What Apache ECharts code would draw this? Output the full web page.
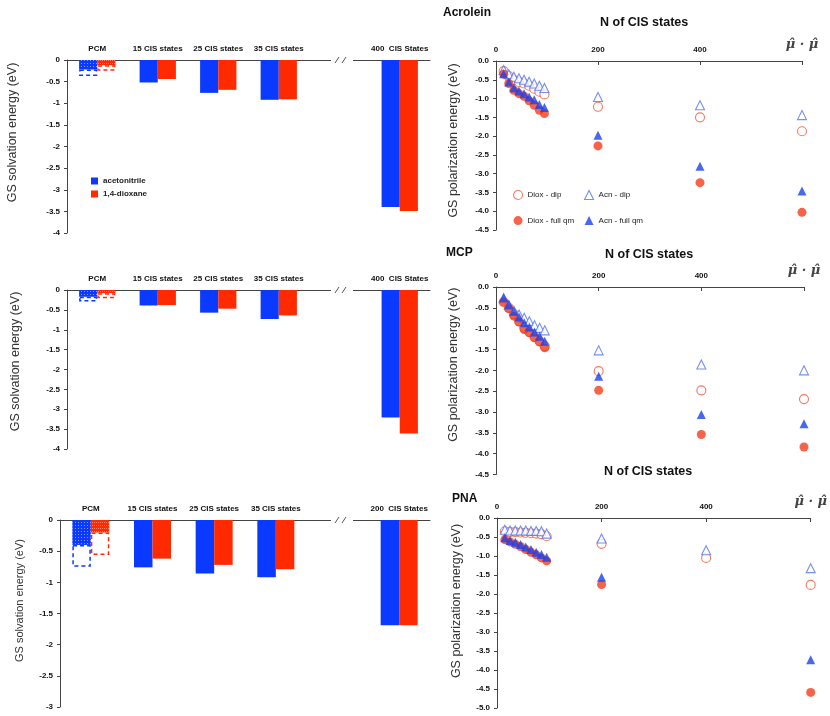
<!DOCTYPE html>
<html>
<head>
<meta charset="utf-8">
<script src="https://cdn.jsdelivr.net/npm/echarts@6/dist/echarts.min.js"></script>
<style>
  html, body { margin: 0; padding: 0; background: #fff; }
  #chart { width: 830px; height: 716px; }
</style>
</head>
<body>
<div id="chart"></div>
<script>
// ---- bar panels (GS solvation energy) ----
var barCats400 = ['PCM', '15 CIS states', '25 CIS states', '35 CIS states', '', '400  CIS States']
var barCats200 = ['PCM', '15 CIS states', '25 CIS states', '35 CIS states', '', '200  CIS States']
var acroleinAcn = [-0.22, -0.52, -0.76, -0.92, null, -3.40]
var acroleinDiox = [-0.12, -0.44, -0.69, -0.91, null, -3.49]
var acroleinPcmDashed = [-0.37, -0.25]   // acn, diox (dashed outline end)
var mcpAcn = [-0.17, -0.39, -0.57, -0.73, null, -3.21]
var mcpDiox = [-0.08, -0.38, -0.47, -0.64, null, -3.61]
var mcpPcmDashed = [-0.29, -0.21]
var pnaAcn = [-0.40, -0.76, -0.86, -0.92, null, -1.69]
var pnaDiox = [-0.20, -0.62, -0.72, -0.79, null, -1.69]
var pnaPcmDashed = [-0.75, -0.56]

// ---- scatter panels (GS polarization energy) ----
var nCis = [15, 25, 35, 45, 55, 65, 75, 85, 95, 200, 400, 600]   // 600 = mu.mu column
var xTickLabels = { 0: '0', 200: '200', 400: '400', 600: 'μ̂ · μ̂' }

var acroleinDioxDip = [-0.27, -0.40, -0.51, -0.56, -0.60, -0.66, -0.74, -0.82, -0.89, -1.22, -1.50, -1.87]
var acroleinAcnDip = [-0.24, -0.35, -0.42, -0.46, -0.50, -0.55, -0.60, -0.66, -0.72, -0.96, -1.18, -1.44]
var acroleinDioxFull = [-0.35, -0.60, -0.78, -0.87, -0.94, -1.06, -1.18, -1.31, -1.40, -2.26, -3.24, -4.03]
var acroleinAcnFull = [-0.34, -0.56, -0.71, -0.80, -0.87, -0.96, -1.03, -1.16, -1.24, -1.98, -2.80, -3.46]

var mcpDioxDip = [-0.36, -0.50, -0.65, -0.82, -0.98, -1.08, -1.20, -1.30, -1.42, -2.02, -2.48, -2.69]
var mcpAcnDip = [-0.27, -0.43, -0.57, -0.66, -0.74, -0.82, -0.92, -0.98, -1.04, -1.52, -1.86, -2.00]
var mcpDioxFull = [-0.36, -0.52, -0.70, -0.84, -1.02, -1.10, -1.22, -1.32, -1.46, -2.48, -3.54, -3.84]
var mcpAcnFull = [-0.26, -0.42, -0.58, -0.72, -0.86, -0.96, -1.08, -1.18, -1.30, -2.14, -3.06, -3.28]

var pnaDioxDip = [-0.35, -0.37, -0.37, -0.38, -0.39, -0.40, -0.41, -0.43, -0.48, -0.68, -1.05, -1.76]
var pnaAcnDip = [-0.31, -0.33, -0.33, -0.33, -0.33, -0.34, -0.34, -0.35, -0.41, -0.54, -0.85, -1.32]
var pnaDioxFull = [-0.57, -0.63, -0.69, -0.75, -0.83, -0.90, -0.97, -1.05, -1.13, -1.75, null, -4.59]
var pnaAcnFull = [-0.52, -0.59, -0.64, -0.70, -0.76, -0.83, -0.90, -0.96, -1.03, -1.56, null, -3.73]

var BLUE = '#0a3aff'
var RED = '#ff2a00'
var S_BLUE = '#1b42ec'
var S_RED = '#f23c1c'
var O_BLUE = '#5474ef'
var O_RED = '#ee5a3c'
var FONT = 'Liberation Sans'

var myChart = echarts.init(document.getElementById('chart'))

var dotDecal = { symbol: 'rect', symbolSize: 1, dashArrayX: [1, 2], dashArrayY: [1, 2], color: 'rgba(255,255,255,0.5)' }
var hatchDecal = { symbol: 'rect', symbolSize: 1, dashArrayX: [1, 1], dashArrayY: [1, 2], color: 'rgba(255,255,255,0.4)' }

// filled bar (PCM one patterned) + dashed PCM extension, stacked
function barPair(name, vals, pcmEnd, color, decal, idx) {
  var main = {
    name: name, type: 'bar', xAxisIndex: idx, yAxisIndex: idx, stack: name + idx,
    barGap: '0%', barCategoryGap: '40%',
    itemStyle: { color: color },
    data: vals.map(function (v, i) {
      return i === 0 ? { value: v, itemStyle: { decal: decal } } : v
    })
  }
  var dashed = {
    name: name + ' PCM', type: 'bar', xAxisIndex: idx, yAxisIndex: idx, stack: name + idx,
    barGap: '0%', barCategoryGap: '40%',
    itemStyle: { color: 'rgba(0,0,0,0)', borderColor: color, borderWidth: 1.5, borderType: [4, 3] },
    data: vals.map(function (v, i) { return i === 0 ? +(pcmEnd - v).toFixed(2) : null })
  }
  return [main, dashed]
}

function scatterSet(idx, dDip, aDip, dFull, aFull) {
  function pts(vals) {
    return nCis.map(function (n, i) { return [n, vals[i]] }).filter(function (p) { return p[1] != null })
  }
  return [
    { name: 'Diox - dip', type: 'scatter', xAxisIndex: idx, yAxisIndex: idx, symbol: 'circle', symbolSize: 9,
      itemStyle: { color: '#fff', borderColor: O_RED, borderWidth: 1.1 }, data: pts(dDip) },
    { name: 'Acn - dip', type: 'scatter', xAxisIndex: idx, yAxisIndex: idx, symbol: 'triangle', symbolSize: 9,
      itemStyle: { color: '#fff', borderColor: O_BLUE, borderWidth: 1.1 }, data: pts(aDip) },
    { name: 'Diox - full qm', type: 'scatter', xAxisIndex: idx, yAxisIndex: idx, symbol: 'circle', symbolSize: 9,
      itemStyle: { color: S_RED }, data: pts(dFull) },
    { name: 'Acn - full qm', type: 'scatter', xAxisIndex: idx, yAxisIndex: idx, symbol: 'triangle', symbolSize: 9,
      itemStyle: { color: S_BLUE }, data: pts(aFull) }
  ]
}

var axisColor = '#444'
var labelStyle = { fontSize: 8, fontWeight: 'bold', color: '#111', fontFamily: FONT }

function barX(cats, idx) {
  return {
    type: 'category', gridIndex: idx, position: 'top', data: cats,
    axisLine: { lineStyle: { color: axisColor } },
    axisTick: { inside: true, length: 3, lineStyle: { color: axisColor } },
    axisLabel: Object.assign({ interval: 0, margin: 7 }, labelStyle)
  }
}
function barY(min, idx, titleSize, gap, shift) {
  return {
    type: 'value', gridIndex: idx, min: min, max: 0, interval: 0.5,
    name: 'GS solvation energy (eV)', nameLocation: 'middle', nameGap: gap,
    nameTextStyle: { fontSize: titleSize, color: '#333', fontFamily: FONT, padding: [0, 0, 0, shift * 2] },
    axisLine: { show: true, lineStyle: { color: axisColor } },
    axisTick: { show: true, length: 3, lineStyle: { color: axisColor } },
    splitLine: { show: false },
    axisLabel: Object.assign({ margin: 7 }, labelStyle)
  }
}
function scatX(idx) {
  return {
    type: 'value', gridIndex: idx, position: 'top', min: 0, max: 600, interval: 200,
    axisLine: { lineStyle: { color: axisColor } },
    axisTick: { inside: true, length: 4, lineStyle: { color: axisColor } },
    splitLine: { show: false },
    axisLabel: Object.assign({
      margin: 7,
      formatter: function (v) { return v === 600 ? '{mu|' + xTickLabels[v] + '}' : xTickLabels[v] },
      rich: { mu: { fontSize: 13, fontStyle: 'italic', fontFamily: 'DejaVu Serif', color: '#444', padding: [0, 0, 3, 0] } }
    }, labelStyle)
  }
}
function scatY(min, idx, gap, shift) {
  return {
    type: 'value', gridIndex: idx, min: min, max: 0, interval: 0.5,
    name: 'GS polarization energy (eV)', nameLocation: 'middle', nameGap: gap,
    nameTextStyle: { fontSize: 12.5, color: '#333', fontFamily: FONT, padding: [0, 0, 0, shift * 2] },
    axisLine: { show: true, lineStyle: { color: axisColor } },
    axisTick: { show: true, length: 3, lineStyle: { color: axisColor } },
    splitLine: { show: false },
    axisLabel: Object.assign({ margin: 7, formatter: function (v) { return v.toFixed(1) } }, labelStyle)
  }
}

// "//" break mark on the category axis
function breakMark(y) {
  return [
    { type: 'rect', z: 100, shape: { x: 331, y: y - 4, width: 22, height: 8 }, style: { fill: '#fff' } },
    { type: 'line', z: 101, shape: { x1: 335, y1: y + 3, x2: 339, y2: y - 3 }, style: { stroke: '#555', lineWidth: 1 } },
    { type: 'line', z: 101, shape: { x1: 342, y1: y + 3, x2: 346, y2: y - 3 }, style: { stroke: '#555', lineWidth: 1 } }
  ]
}

var series = []
  .concat(barPair('acetonitrile', acroleinAcn, acroleinPcmDashed[0], BLUE, dotDecal, 0))
  .concat(barPair('1,4-dioxane', acroleinDiox, acroleinPcmDashed[1], RED, hatchDecal, 0))
  .concat(barPair('acetonitrile', mcpAcn, mcpPcmDashed[0], BLUE, dotDecal, 1))
  .concat(barPair('1,4-dioxane', mcpDiox, mcpPcmDashed[1], RED, hatchDecal, 1))
  .concat(barPair('acetonitrile', pnaAcn, pnaPcmDashed[0], BLUE, dotDecal, 2))
  .concat(barPair('1,4-dioxane', pnaDiox, pnaPcmDashed[1], RED, hatchDecal, 2))
  .concat(scatterSet(3, acroleinDioxDip, acroleinAcnDip, acroleinDioxFull, acroleinAcnFull))
  .concat(scatterSet(4, mcpDioxDip, mcpAcnDip, mcpDioxFull, mcpAcnFull))
  .concat(scatterSet(5, pnaDioxDip, pnaAcnDip, pnaDioxFull, pnaAcnFull))

var titleText = { fontSize: 12, fontWeight: 'bold', color: '#111', fontFamily: FONT }
var subText = { fontSize: 12.5, fontWeight: 'bold', color: '#111', fontFamily: FONT }
var legendText = { fontSize: 8, color: '#222', fontFamily: FONT }

var option = {
  animation: false,
  backgroundColor: '#fff',
  title: [
    { text: 'Acrolein', left: 443, top: 7, padding: 0, textStyle: titleText },
    { text: 'N of CIS states', left: 600, top: 16, padding: 0, textStyle: subText },
    { text: 'MCP', left: 446, top: 247, padding: 0, textStyle: titleText },
    { text: 'N of CIS states', left: 605, top: 248, padding: 0, textStyle: subText },
    { text: 'PNA', left: 452, top: 493, padding: 0, textStyle: titleText },
    { text: 'N of CIS states', left: 604, top: 465, padding: 0, textStyle: subText }
  ],
  legend: [
    { orient: 'vertical', left: 86, top: 172, itemWidth: 7, itemHeight: 7, itemGap: 5,
      textStyle: Object.assign({}, legendText, { fontWeight: 'bold' }),
      data: [{ name: 'acetonitrile', icon: 'rect' }, { name: '1,4-dioxane', icon: 'rect' }] },
    { orient: 'vertical', left: 508, top: 185, itemWidth: 9, itemHeight: 9, itemGap: 16, textStyle: legendText,
      data: [
        { name: 'Diox - dip', icon: 'circle', itemStyle: { color: '#fff', borderColor: O_RED, borderWidth: 1.1 } },
        { name: 'Diox - full qm', icon: 'circle', itemStyle: { color: S_RED } }
      ] },
    { orient: 'vertical', left: 579, top: 185, itemWidth: 9, itemHeight: 9, itemGap: 16, textStyle: legendText,
      data: [
        { name: 'Acn - dip', icon: 'triangle', itemStyle: { color: '#fff', borderColor: O_BLUE, borderWidth: 1.1 } },
        { name: 'Acn - full qm', icon: 'triangle', itemStyle: { color: S_BLUE } }
      ] }
  ],
  grid: [
    { left: 67, top: 60, width: 363, height: 173 },
    { left: 67, top: 290, width: 363, height: 159 },
    { left: 60, top: 520, width: 370, height: 187 },
    { left: 496, top: 61, width: 306, height: 169 },
    { left: 496, top: 287, width: 308, height: 187.5 },
    { left: 497, top: 518, width: 316, height: 190 }
  ],
  xAxis: [
    barX(barCats400, 0), barX(barCats400, 1), barX(barCats200, 2),
    scatX(3), scatX(4), scatX(5)
  ],
  yAxis: [
    barY(-4, 0, 12.5, 48, 14), barY(-4, 1, 12.5, 45, 8), barY(-3, 2, 11, 35, 13),
    scatY(-4.5, 3, 36, 5), scatY(-4.5, 4, 36, 16), scatY(-5, 5, 34, 12)
  ],
  graphic: [].concat(breakMark(60), breakMark(290), breakMark(520)),
  series: series
}

option && myChart.setOption(option)
</script>
</body>
</html>
